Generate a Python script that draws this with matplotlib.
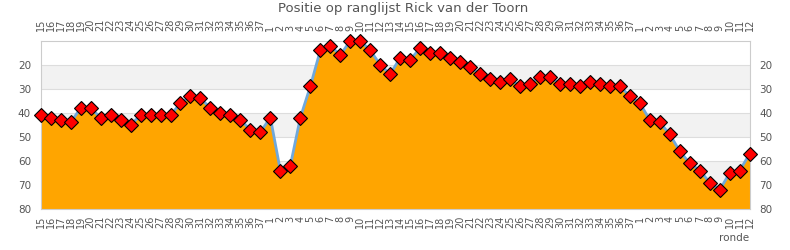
import numpy as np
import matplotlib
matplotlib.use("Agg")
import matplotlib.pyplot as plt

# rondes (seizoenen lopen door)
rondes = [str(r) for r in range(15, 38)] + [str(r) for r in range(1, 38)] + [str(r) for r in range(1, 13)]
positie = [41, 42, 43, 44, 38, 38, 42, 41, 43, 45, 41, 41, 41, 41, 36, 33, 34, 38, 40, 41,
           43, 47, 48, 42, 64, 62, 42, 29, 14, 12, 16, 10, 10, 14, 20, 24, 17, 18, 13, 15,
           15, 17, 19, 21, 24, 26, 27, 26, 29, 28, 25, 25, 28, 28, 29, 27, 28, 29, 29, 33,
           36, 43, 44, 49, 56, 61, 64, 69, 72, 65, 64, 57]
y_ticks = [20, 30, 40, 50, 60, 70, 80]

fig = plt.figure(figsize=(7.9, 2.5), dpi=100)
ax = fig.add_axes([0.0515, 0.164, 0.8975, 0.673])

x = np.arange(len(rondes))
grijs = "#555555"

# achtergrondbanden en rasterlijnen
for lo in (20, 40, 60):
    ax.axhspan(lo, lo + 10, color="#f2f2f2", zorder=0, lw=0)
for yt in y_ticks:
    ax.axhline(yt, color="#dddddd", lw=0.8, zorder=0.5)

ax.fill_between(x, positie, 80, color="#ffa500", lw=0, zorder=1)
ax.plot(x, positie, color="#6fa8dc", lw=2, zorder=2)
ax.plot(x, positie, ls="none", marker="D", ms=7, mfc="#ff0000", mec="black", mew=0.8,
        zorder=3, clip_on=False)

ax.set_xlim(0, len(rondes) - 1)
ax.set_ylim(80, 10)
ax.set_yticks(y_ticks)
ax.set_xticks(x)
ax.set_xticklabels(rondes, rotation=90, fontsize=7, color=grijs)
ax.tick_params(axis="x", length=0, pad=5)
ax.tick_params(axis="y", length=0, pad=7, labelsize=7.5, labelcolor=grijs,
               labelright=True, right=False)

# labels boven de grafiek, iets verder van de rand
top = ax.secondary_xaxis("top")
top.set_xticks(x)
top.set_xticklabels(rondes, rotation=90, fontsize=7, color=grijs)
top.tick_params(axis="x", length=0, pad=7)
top.spines["top"].set_visible(False)

for s in ax.spines.values():
    s.set_color("#cccccc")
    s.set_linewidth(0.8)

fig.text(0.510, 0.952, "Positie op ranglijst Rick van der Toorn", ha="center", va="baseline",
         fontsize=9.5, color="#555555")
fig.text(0.948, 0.036, "ronde", ha="right", va="baseline", fontsize=7.5, color=grijs)

fig.savefig("out.png", dpi=100)
